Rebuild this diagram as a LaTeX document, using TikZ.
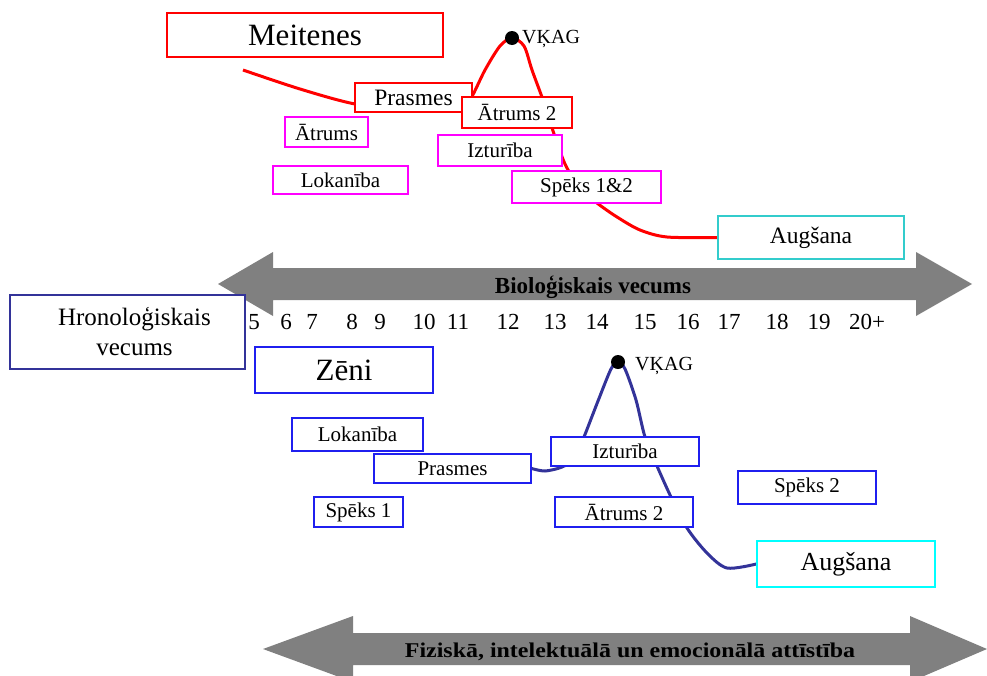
\documentclass[tikz,border=0pt]{standalone}
\usepackage{fontspec}
\setmainfont{Liberation Serif}
\usetikzlibrary{backgrounds}
\definecolor{navy}{HTML}{333399}
\definecolor{boxblue}{HTML}{1F1FEF}
\definecolor{magentaA}{HTML}{FF00FF}
\definecolor{redA}{HTML}{FF0000}
\definecolor{cyanA}{HTML}{33CCCC}
\definecolor{cyanB}{HTML}{00FFFF}
\definecolor{arrowgray}{HTML}{808080}
\begin{document}
\begin{tikzpicture}[x=1pt,y=-1pt,
  box/.style={draw,fill=white,line width=1.5pt,inner sep=0pt,align=center},
  redbox/.style={box,draw=redA},
  magbox/.style={box,draw=magentaA},
  bluebox/.style={box,draw=boxblue},
  fa/.style={font=\fontsize{21}{25}\selectfont},
  fb/.style={font=\fontsize{23.5}{28}\selectfont},
  fc/.style={font=\fontsize{31}{36}\selectfont},
  fnum/.style={font=\fontsize{23}{27}\selectfont,inner sep=0pt,anchor=base},
  flab/.style={font=\fontsize{20}{24}\selectfont,inner sep=0pt,anchor=base west},
  fbar/.style={font=\bfseries\fontsize{23}{27}\selectfont,inner sep=0pt},
  redcurve/.style={draw=redA,line width=3pt},
  bluecurve/.style={draw=navy,line width=3pt},
  dotnode/.style={circle,fill=black,inner sep=0pt,minimum size=14pt}
]
\useasboundingbox (0,0) rectangle (987,675);
\clip (0,0) rectangle (987,675);

% arrows
\fill[arrowgray] (218,284) -- (273,252) -- (273,268) -- (916,268) -- (916,252) -- (972,284)
  -- (916,316) -- (916,300) -- (273,300) -- (273,316) -- cycle;
\node[fbar,anchor=base] (bio) at (593,293) {Bioloģiskais vecums};
\fill[arrowgray] (263,649) -- (353,616) -- (353,633) -- (910,633) -- (910,616) -- (987,649)
  -- (910,682) -- (910,665) -- (353,665) -- (353,682) -- cycle;
\node[fbar,anchor=base,font=\bfseries\fontsize{21}{25}\selectfont,xscale=1.14] (fiz) at (630,657) {Fiziskā, intelektuālā un emocionālā attīstība};

% dots
\coordinate (rs) at (243,70);
\node[dotnode] (dotT) at (512,38) {};
\node[dotnode] (dotB) at (618,362) {};

% top boxes
\node[redbox,minimum width=276pt,minimum height=44pt,fc] (meit) at (305,35) {Meitenes};
\node[redbox,minimum width=117pt,minimum height=29pt,fb] (prasT) at (413.5,97.5) {Prasmes};
\node[redbox,minimum width=110pt,minimum height=31pt,fa] (atr2T) at (517,112.5) {Ātrums 2};
\node[magbox,minimum width=83pt,minimum height=30pt,fa] (atrT) at (326.5,132) {Ātrums};
\node[magbox,minimum width=124pt,minimum height=31pt,fa] (izT) at (500,150.5) {Izturība};
\node[magbox,minimum width=135pt,minimum height=28pt,fa] (lokT) at (340.5,180) {Lokanība};
\node[magbox,minimum width=149pt,minimum height=32pt,fa] (speT) at (586.5,187) {Spēks 1\&2};
\node[box,draw=cyanA,minimum width=186pt,minimum height=43pt,fb] (augT) at (811,237.5) {Augšana};
\node[flab] (vkT) at (522,43) {VĶAG};

% middle
\node[box,draw=navy,minimum width=235pt,minimum height=74pt,font=\fontsize{25}{30}\selectfont] (hron) at (127.5,332) {\hspace*{14pt}Hronoloģiskais\\\hspace*{14pt}vecums};
\node[fnum] (n5) at (254,329) {5};
\node[fnum] (n6) at (286,329) {6};
\node[fnum] (n7) at (312,329) {7};
\node[fnum] (n8) at (352,329) {8};
\node[fnum] (n9) at (380,329) {9};
\node[fnum] (n10) at (424,329) {10};
\node[fnum] (n11) at (458,329) {11};
\node[fnum] (n12) at (508,329) {12};
\node[fnum] (n13) at (555,329) {13};
\node[fnum] (n14) at (597,329) {14};
\node[fnum] (n15) at (645,329) {15};
\node[fnum] (n16) at (688,329) {16};
\node[fnum] (n17) at (729,329) {17};
\node[fnum] (n18) at (777,329) {18};
\node[fnum] (n19) at (819,329) {19};
\node[fnum] (n20) at (867,329) {20+};

% bottom boxes
\node[bluebox,minimum width=178pt,minimum height=46pt,fc] (zeni) at (344,370) {Zēni};
\node[bluebox,minimum width=131pt,minimum height=33pt,fa] (lokB) at (357.5,434.5) {Lokanība};
\node[bluebox,minimum width=157pt,minimum height=29pt,fa] (prasB) at (452.5,468.5) {Prasmes};
\node[bluebox,minimum width=89pt,minimum height=30pt,fa] (spe1) at (358.5,512) {Spēks 1};
\node[bluebox,minimum width=148pt,minimum height=29pt,fa] (izB) at (625,451.5) {Izturība};
\node[bluebox,minimum width=138pt,minimum height=30pt,fa] (atr2B) at (624,512) {Ātrums 2};
\node[bluebox,minimum width=138pt,minimum height=33pt,fa] (spe2) at (807,487.5) {Spēks 2};
\node[box,draw=cyanB,minimum width=178pt,minimum height=46pt,font=\fontsize{26}{30}\selectfont] (augB) at (846,564) {Augšana};
\node[flab] (vkB) at (635,370) {VĶAG};

% curves (behind boxes)
\begin{pgfonlayer}{background}
\draw[redcurve] plot[smooth,tension=0.5] coordinates {(rs) (300,89) (355,104) (410,110) (452,110) (468,103) (485,70) (500,46) (dotT) (524,46) (532,70) (543,100) (552,128) (565,164) (580,188) (597,203) (617,217) (640,230) (667,237) (augT.west)};
\draw[bluecurve] plot[smooth,tension=0.5] coordinates {(prasB.east) (545,471) (562,467) (575,458) (584,437) (598,401) (611,369) (dotB) (625,369) (636,400) (645,437) (657,466) (671,497) (687,528) (707,553) (727,568) (augB.west)};
\end{pgfonlayer}
\end{tikzpicture}
\end{document}
